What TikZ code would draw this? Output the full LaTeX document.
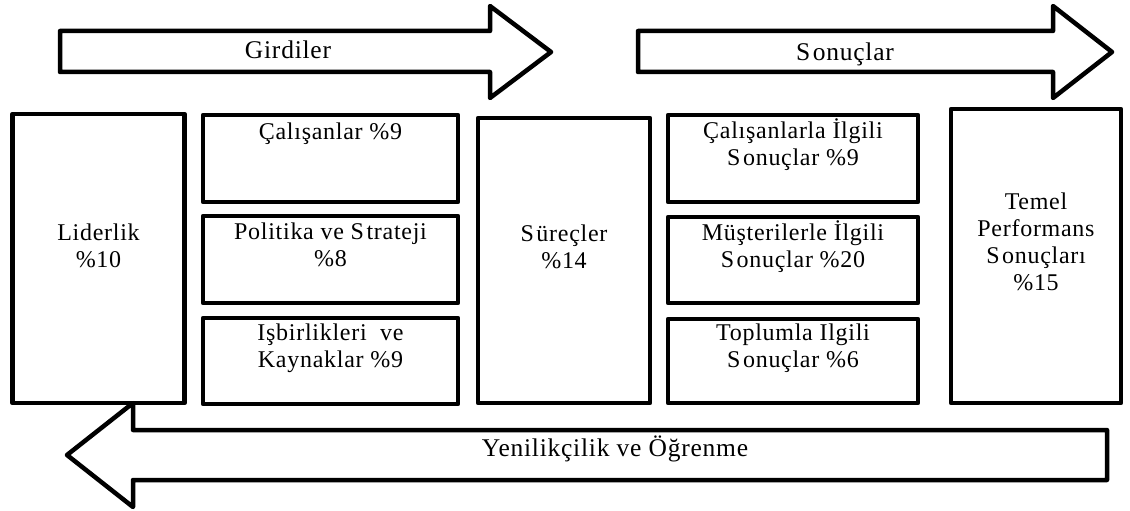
\documentclass[tikz,border=0pt]{standalone}
\usepackage{fontspec}
\setmainfont[LetterSpace=3]{Liberation Serif}
\newcommand{\Sk}{S\kern2.5pt }
\begin{document}
\begin{tikzpicture}[x=1pt,y=-1pt,
  frame/.style={draw=black, line width=4.5pt, line join=round, fill=white},
  boxnode/.style={frame, anchor=north west, inner sep=0pt, outer sep=0pt},
  lbl/.style={font=\fontsize{24}{27}\selectfont, align=center, inner sep=0pt, anchor=base},
  biglbl/.style={lbl, font=\fontsize{25.5}{28}\selectfont},
]
\useasboundingbox (0,0) rectangle (1130,511);
\fill[white] (0,0) rectangle (1130,511);

% --- flow arrows along the top ---
\draw[frame] (60,31) -- (490,31) -- (490,6) -- (551,52) -- (490,98) -- (490,72) -- (60,72) -- cycle;
\draw[frame] (638,31) -- (1053,31) -- (1053,6) -- (1112,52) -- (1053,98) -- (1053,72) -- (638,72) -- cycle;
\node[biglbl] (gird) at (288,59) {Girdiler};
\node[biglbl] (sonu) at (845,60) {\Sk onuçlar};

% --- enabler and result boxes ---
\node[boxnode, minimum width=172pt, minimum height=289pt] (lid) at (12.5,114) {};
\node[boxnode, minimum width=255pt, minimum height=87pt] (cal) at (203,115) {};
\node[boxnode, minimum width=255pt, minimum height=87pt] (pol) at (203,216) {};
\node[boxnode, minimum width=255pt, minimum height=86pt] (isb) at (203,318) {};
\node[boxnode, minimum width=172pt, minimum height=285pt] (sur) at (478,118) {};
\node[boxnode, minimum width=250pt, minimum height=87pt] (calr) at (668,115) {};
\node[boxnode, minimum width=250pt, minimum height=86pt] (mus) at (668,217) {};
\node[boxnode, minimum width=250pt, minimum height=84pt] (top) at (668,319) {};
\node[boxnode, minimum width=170pt, minimum height=294pt] (tem) at (951,109) {};

% labels: the given point is the baseline of the last line
\node[lbl] at (98.5,267) {Liderlik\\\%10};
\node[lbl] at (330.5,139) {Çalışanlar \%9};
\node[lbl] at (330.5,266) {Politika ve \Sk trateji\\\%8};
\node[lbl] at (330.5,367) {Işbirlikleri\ \ ve\\Kaynaklar \%9};
\node[lbl] at (564,268) {\Sk üreçler\\\%14};
\node[lbl] at (793,165) {Çalışanlarla İlgili\\\Sk onuçlar \%9};
\node[lbl] at (793,267) {Müşterilerle İlgili\\\Sk onuçlar \%20};
\node[lbl] at (793,367) {Toplumla Ilgili\\\Sk onuçlar \%6};
\node[lbl] at (1036,290) {Temel\\Performans\\\Sk onuçları\\\%15};

% --- feedback arrow along the bottom ---
\draw[frame] (1107,430) -- (133,430) -- (133,403) -- (67,455) -- (133,507) -- (133,480) -- (1107,480) -- cycle;
\node[biglbl] (yen) at (615,456) {Yenilikçilik ve Öğrenme};
\end{tikzpicture}
\end{document}
